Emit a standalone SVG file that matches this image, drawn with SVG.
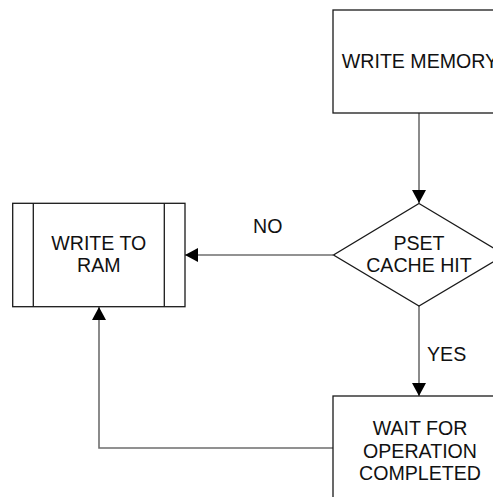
<svg xmlns="http://www.w3.org/2000/svg" width="493" height="497" viewBox="0 0 493 497">
  <style>
    .box { fill: #ffffff; stroke: #1a1a1a; stroke-width: 1.3; }
    .link { fill: none; stroke: #6e6e6e; stroke-width: 1.6; }
    .txt { font-family: "Liberation Sans", Arial, sans-serif; font-size: 19.6px; fill: #111111; text-anchor: middle; }
    .lbl { font-family: "Liberation Sans", Arial, sans-serif; font-size: 19.6px; fill: #111111; }
  </style>
  <defs>
    <marker id="arrow" markerUnits="userSpaceOnUse" markerWidth="14" markerHeight="14" viewBox="0 0 14 14" refX="13" refY="7" orient="auto">
      <path d="M0,0 L13,7 L0,14 Z" fill="#000000"/>
    </marker>
  </defs>
  <rect width="493" height="497" fill="#ffffff"/>

  <g id="connectors">
    <path class="link" d="M419,113 V203" marker-end="url(#arrow)"/>
    <path class="link" d="M333,255 H185" marker-end="url(#arrow)"/>
    <path class="link" d="M419,306 V396" marker-end="url(#arrow)"/>
    <path class="link" d="M333,448 H99 V307" marker-end="url(#arrow)"/>
    <text class="lbl" x="253" y="233">NO</text>
    <text class="lbl" x="427" y="361">YES</text>
  </g>

  <g id="write-memory">
    <rect class="box" x="333" y="10" width="174" height="103"/>
    <text class="txt" x="420" y="68">WRITE MEMORY</text>
  </g>

  <g id="pset-cache-hit">
    <polygon class="box" points="419,203.5 505,255 419,306 333.5,255"/>
    <text class="txt" x="419" y="250">PSET</text>
    <text class="txt" x="419" y="272">CACHE HIT</text>
  </g>

  <g id="write-to-ram">
    <rect class="box" x="12.7" y="203.3" width="172.3" height="103.4"/>
    <line class="box" x1="33.3" y1="203.3" x2="33.3" y2="306.7"/>
    <line class="box" x1="164.3" y1="203.3" x2="164.3" y2="306.7"/>
    <text class="txt" x="98.8" y="250">WRITE TO</text>
    <text class="txt" x="98.8" y="272">RAM</text>
  </g>

  <g id="wait-completed">
    <rect class="box" x="333" y="396" width="174" height="110"/>
    <text class="txt" x="420" y="435">WAIT FOR</text>
    <text class="txt" x="420" y="458">OPERATION</text>
    <text class="txt" x="420" y="480">COMPLETED</text>
  </g>
</svg>
